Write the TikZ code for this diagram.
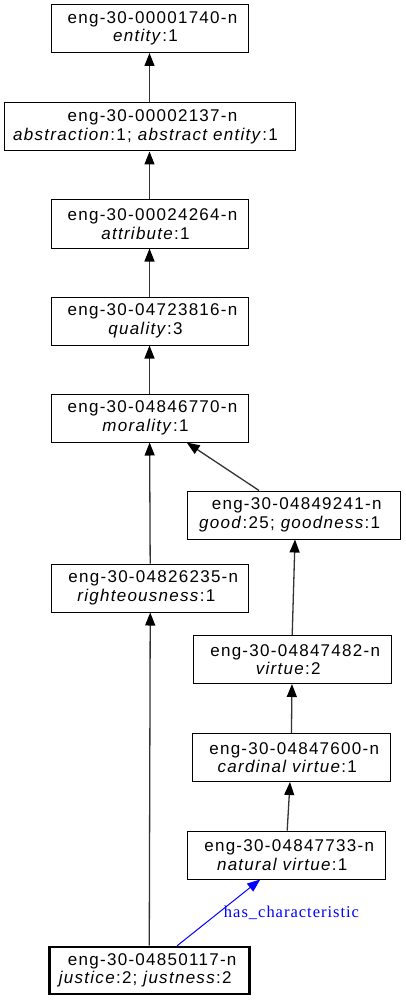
\documentclass[tikz,border=0pt]{standalone}
\usepackage{fontspec}
\setmainfont{Liberation Sans}[LetterSpace=7.5]
\newfontfamily\labfont{Liberation Serif}[LetterSpace=6]
\usetikzlibrary{arrows.meta}
\tikzset{
  syn/.style={draw=black, line width=1pt, inner sep=0pt, align=center,
    minimum height=48pt, font=\fontsize{17}{18.5}\selectfont},
  focus/.style={syn, line width=2.6pt},
  edge/.style={draw=black!80, line width=1.3pt, -{Triangle[length=13pt,width=10pt,color=black]}},
  rel/.style={draw=blue, line width=1pt, -{Triangle[length=13pt,width=10pt]}},
  rellab/.style={text=blue, inner sep=0pt, font=\labfont\fontsize{16.5}{18}\selectfont}
}
\newcommand{\lone}[1]{\hspace*{6pt}#1}
\newcommand{\ltwo}[1]{#1\hspace*{8pt}}
\begin{document}
\begin{tikzpicture}[x=1pt,y=-1pt]
\useasboundingbox (0,0) rectangle (406,1000);
\node[syn, minimum width=197pt] (entity) at (149.5,28.5) {\lone{eng-30-00001740-n}\\\ltwo{\textit{entity}:1}};
\node[syn, minimum width=291pt] (abstraction) at (149.5,127) {\lone{eng-30-00002137-n}\\\ltwo{\textit{abstraction}:1; \textit{abstract entity}:1}};
\node[syn, minimum width=197pt] (attribute) at (149.5,224) {\lone{eng-30-00024264-n}\\\ltwo{\textit{attribute}:1}};
\node[syn, minimum width=197pt] (quality) at (149.5,321) {\lone{eng-30-04723816-n}\\\ltwo{\textit{quality}:3}};
\node[syn, minimum width=197pt] (morality) at (149.5,418) {\lone{eng-30-04846770-n}\\\ltwo{\textit{morality}:1}};
\node[syn, minimum width=212.7pt] (good) at (293.7,515) {\lone{eng-30-04849241-n}\\\ltwo{\textit{good}:25; \textit{goodness}:1}};
\node[syn, minimum width=197pt] (righteous) at (150.3,588) {\lone{eng-30-04826235-n}\\\ltwo{\textit{righteousness}:1}};
\node[syn, minimum width=197.7pt] (virtue) at (292.2,659.5) {\lone{eng-30-04847482-n}\\\ltwo{\textit{virtue}:2}};
\node[syn, minimum width=197.7pt] (cardinal) at (291.2,757.5) {\lone{eng-30-04847600-n}\\\ltwo{\textit{cardinal virtue}:1}};
\node[syn, minimum width=197.7pt] (natural) at (286.2,855) {\lone{eng-30-04847733-n}\\\ltwo{\textit{natural virtue}:1}};
\node[focus, minimum width=200pt, minimum height=47pt] (justice) at (149.2,970.5) {\lone{eng-30-04850117-n}\\\ltwo{\textit{justice}:2; \textit{justness}:2}};
\draw[edge] (abstraction) -- (entity);
\draw[edge] (attribute) -- (abstraction);
\draw[edge] (quality) -- (attribute);
\draw[edge] (morality) -- (quality);
\draw[edge] (righteous) -- (morality);
\draw[edge] ([xshift=-34.7pt]good.north) -- ([xshift=37.2pt]morality.south);
\draw[edge] (virtue.north) -- ([xshift=1.3pt]good.south);
\draw[edge] (cardinal) -- (virtue);
\draw[edge] ([xshift=1pt]natural.north) -- ([xshift=-1.2pt]cardinal.south);
\draw[edge] (justice) -- (righteous);
\draw[rel] ([xshift=28pt]justice.north) -- ([xshift=-26pt]natural.south);
\node[rellab, anchor=base] (hc) at (291.5,917) {has\_characteristic};
\end{tikzpicture}
\end{document}
